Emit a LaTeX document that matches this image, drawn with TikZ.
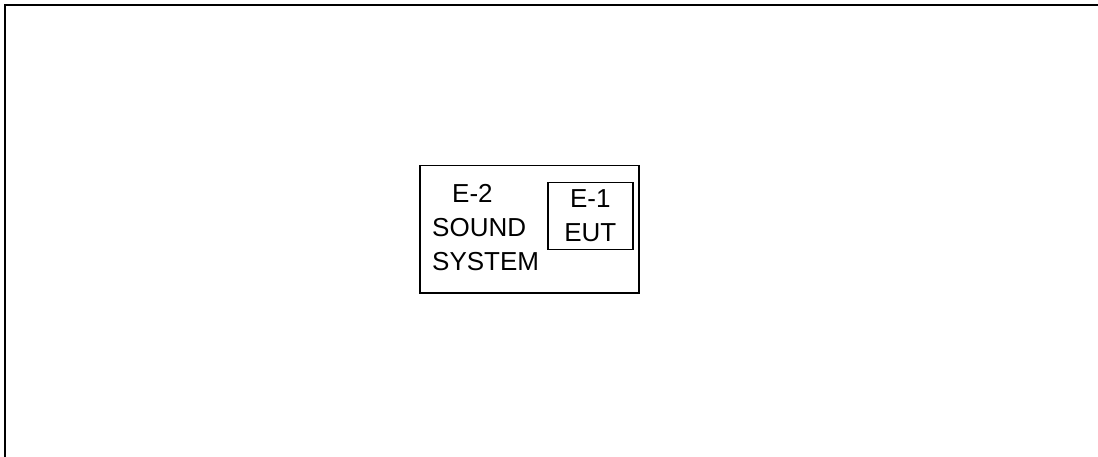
\documentclass[tikz,border=0pt]{standalone}
\usepackage{fontspec}
\setmainfont{Liberation Sans}
\begin{document}
\begin{tikzpicture}[x=1pt,y=-1pt,
  frame/.style={line width=2pt},
  box/.style={draw,line width=1.5pt},
  lbl/.style={font=\fontsize{26}{34}\selectfont,inner sep=0pt}]
\useasboundingbox (0,0) rectangle (1098,457);
\draw[frame] (5,460) -- (5,5) -- (1100,5);
\node[box,minimum width=219pt,minimum height=127pt,anchor=north west] (e2) at (419,165) {};
\node[box,minimum width=85pt,minimum height=67pt,anchor=north west] (e1) at (547,182) {};
\node[lbl,align=left,anchor=north west] (e2t) at (432,184) {\hspace{20pt}E-2\\SOUND\\SYSTEM};
\node[lbl,align=center] (e1t) at ([yshift=1pt]e1.center) {E-1\\EUT};
\end{tikzpicture}
\end{document}
